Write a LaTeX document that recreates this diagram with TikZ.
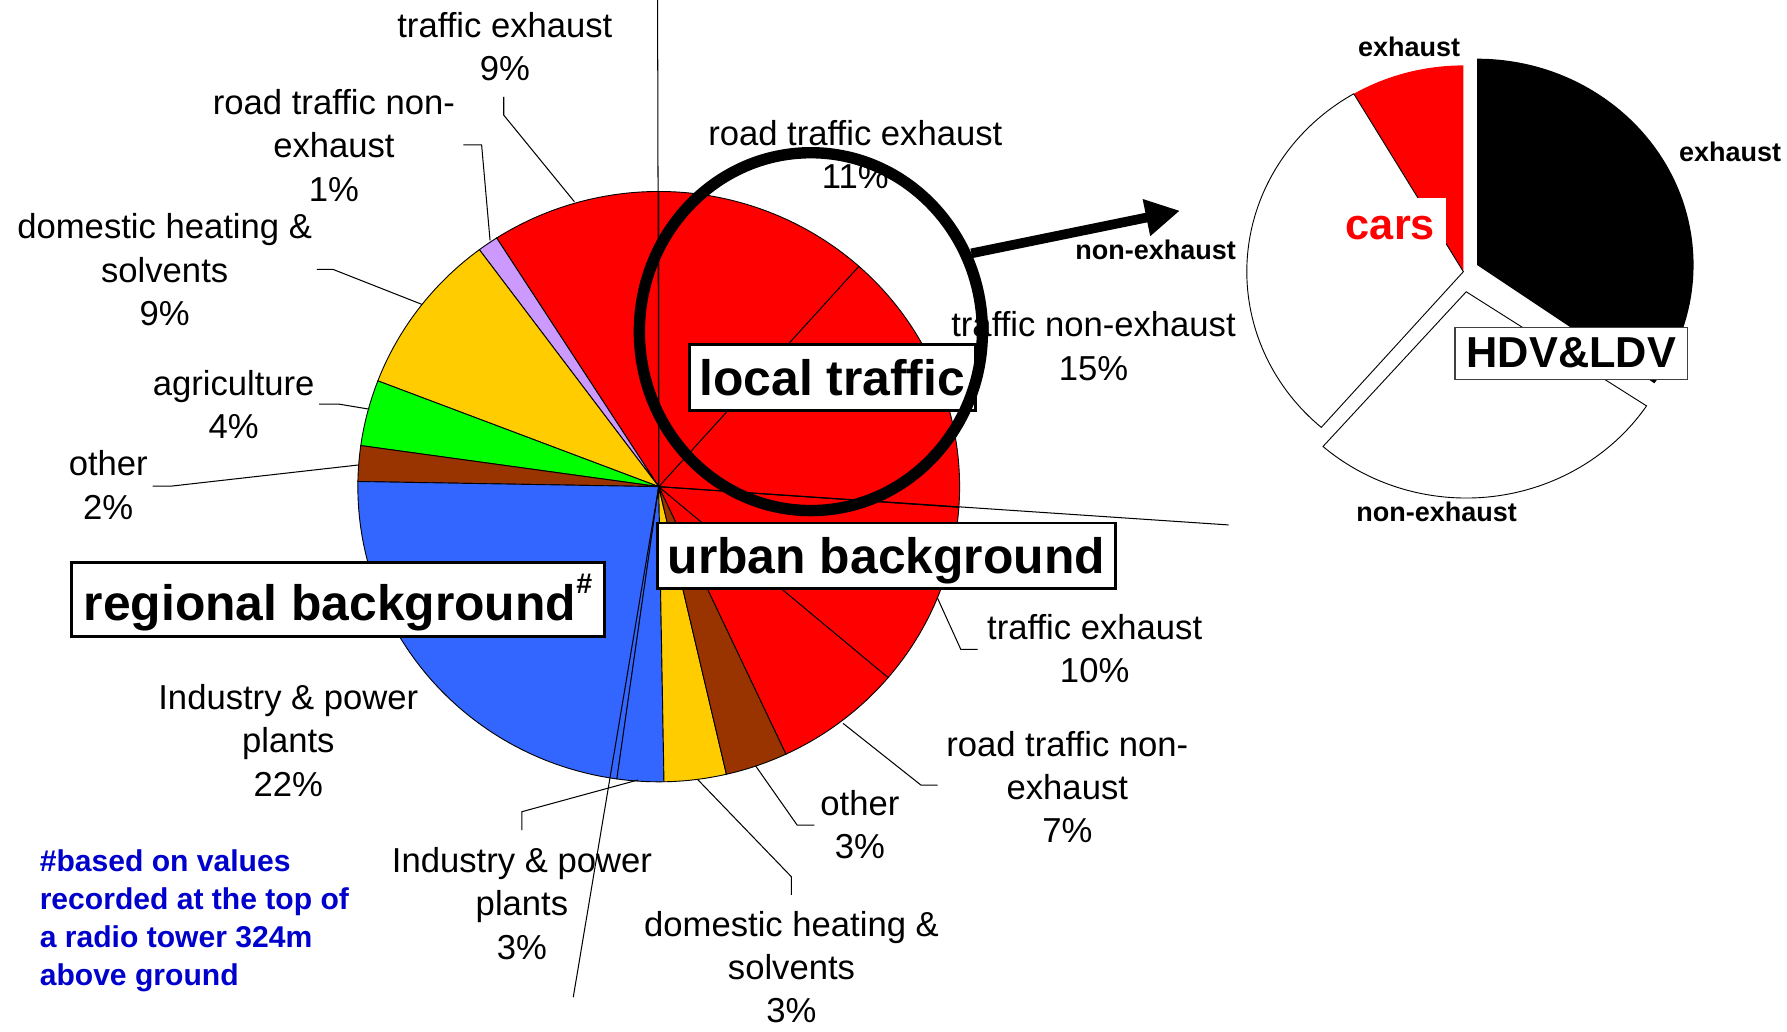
\documentclass[tikz,border=0pt]{standalone}
\usepackage{fontspec}
\setmainfont{Liberation Sans}
\usetikzlibrary{shapes.geometric,arrows.meta}
\definecolor{pieRed}{RGB}{255,0,0}
\definecolor{pieYellow}{RGB}{255,204,0}
\definecolor{pieLilac}{RGB}{204,153,255}
\definecolor{pieGreen}{RGB}{0,255,0}
\definecolor{pieBrown}{RGB}{153,51,0}
\definecolor{pieBlue}{RGB}{51,102,255}
\definecolor{noteBlue}{RGB}{0,0,204}
\begin{document}
\begin{tikzpicture}[x=0.5pt,y=-0.5pt,
  slice/.style={draw=black,line width=0.4pt},
  leader/.style={draw=black,line width=0.45pt},
  lbl/.style={font=\fontsize{15.2}{19}\selectfont,align=center,inner sep=0pt},
  tag/.style={font=\bfseries\fontsize{11.85}{14.2}\selectfont,inner sep=0pt},
  bigbox/.style={draw=black,line width=1.3pt,fill=white,inner sep=0pt,
    font=\bfseries\fontsize{21.85}{26}\selectfont,text height=15.65pt,text depth=0pt},
  smallbox/.style={draw=black!75,line width=0.6pt,fill=white,inner sep=0pt,
    font=\bfseries\fontsize{19}{23}\selectfont,text height=12.1pt,text depth=0pt},
  note/.style={font=\bfseries\fontsize{13.2}{16.8}\selectfont,align=left,
    text=noteBlue,inner sep=0pt}]
\useasboundingbox (0,0) rectangle (1568,905);

% ---- main pie (angles measured clockwise on the page) ----
\coordinate (pc) at (578,427);
\foreach \a/\b/\c in {65/40.3/pieRed, 40.3/4/pieRed, 4/-48.3/pieRed,
    -48.3/-90/pieRed, -90/-122.6/pieRed, -122.6/-126.6/pieLilac,
    -126.6/-159/pieYellow, -159/-172/pieGreen, -172/-179/pieBrown,
    -179/-262/pieBlue, -262/-271/pieBlue, -271/-283/pieYellow,
    -283/-295/pieBrown}
  \filldraw[slice,fill=\c] (pc) -- ++(\a:264 and 259)
    arc[start angle=\a,end angle=\b,x radius=264,y radius=259] -- cycle;

% long guide lines through the centre
\coordinate (topend) at (577,0);
\coordinate (rightend) at (1078,460.6);
\coordinate (downend) at (503,875);
\draw[leader] (pc) -- (topend);
\draw[leader] (pc) -- (rightend);
\draw[leader] (pc) -- (downend);

% leader lines
\draw[leader] (504,177) -- (442,101) -- (442,85);
\draw[leader] (430,211) -- (422.6,127.2) -- (406.5,127.2);
\draw[leader] (370,267) -- (292,236.3) -- (278,236.3);
\draw[leader] (324,359) -- (297,354.5) -- (280,354.5);
\draw[leader] (314.4,408) -- (150.6,426.5) -- (134,426.5);
\draw[leader] (822.7,525) -- (843,569.7) -- (857.8,569.7);
\draw[leader] (739.7,634.7) -- (808,688.8) -- (822.7,688.8);
\draw[leader] (663,672) -- (699.4,723.9) -- (714.6,723.9);
\draw[leader] (612,683.8) -- (694.4,769.3) -- (694.4,785.3);
\draw[leader] (559.7,684.4) -- (458,712.2) -- (458,728.3);

% slice labels
\node[lbl] (l1) at (443,44) {\strut traffic exhaust\\\strut 9\%};
\node[lbl] (l2) at (293,131) {\strut road traffic non-\\\strut exhaust\\\strut 1\%};
\node[lbl] (l3) at (144.5,240) {\strut domestic heating \&\\\strut solvents\\\strut 9\%};
\node[lbl] (l4) at (205,358) {\strut agriculture\\\strut 4\%};
\node[lbl] (l5) at (95,429) {\strut other\\\strut 2\%};
\node[lbl] (l6) at (750.5,139) {\strut road traffic exhaust\\\strut 11\%};
\node[lbl] (l7) at (959.5,307) {\strut traffic non-exhaust\\\strut 15\%};
\node[lbl] (l8) at (960.5,572.5) {\strut traffic exhaust\\\strut 10\%};
\node[lbl] (l9) at (936.5,694) {\strut road traffic non-\\\strut exhaust\\\strut 7\%};
\node[lbl] (l10) at (754.5,727) {\strut other\\\strut 3\%};
\node[lbl] (l11) at (694.5,852) {\strut domestic heating \&\\\strut solvents\\\strut 3\%};
\node[lbl] (l12) at (458,796) {\strut Industry \& power\\\strut plants\\\strut 3\%};
\node[lbl] (l13) at (253,653) {\strut Industry \& power\\\strut plants\\\strut 22\%};

% group boxes
\node[bigbox,minimum width=125.5pt,minimum height=28.8pt] (loc) at (730.2,331.2) {local traffic};
\node[bigbox,minimum width=201pt,minimum height=28.8pt] (urb) at (777.7,487.7) {urban background};
\node[bigbox,minimum width=233.7pt,minimum height=32.4pt,text height=18.35pt] (reg) at (296.5,525.8)
  {regional background\raisebox{11.5pt}{\fontsize{12.5}{12.5}\selectfont\#}};

% highlight ring and arrow
\node[ellipse,draw=black,line width=5pt,minimum width=150.5pt,minimum height=157pt,inner sep=0pt] (ring) at (711.5,291) {};
\coordinate (tip) at (1035.3,184.9);
\draw[line width=4.25pt,-{Triangle[length=15pt,width=15.5pt]}] (ring.26) -- (tip);

% ---- exploded traffic pie ----
\coordinate (hdvA) at (1296,232.5);
\coordinate (carA) at (1284,238.4);
\coordinate (nexA) at (1286.5,256);
\fill[black] (hdvA) -- ++(-90:190 and 181)
  arc[start angle=-90,end angle=35,x radius=190,y radius=181] -- cycle;
\fill[pieRed] (carA) -- ++(-90:190 and 181)
  arc[start angle=-90,end angle=-120.4,x radius=190,y radius=181] -- cycle;
\filldraw[slice,fill=white] (carA) -- ++(-120.4:190 and 181)
  arc[start angle=-120.4,end angle=-229,x radius=190,y radius=181] -- cycle;
\filldraw[slice,fill=white] (nexA) -- ++(-228.6:190 and 181)
  arc[start angle=-228.6,end angle=-326.4,x radius=190,y radius=181] -- cycle;

\node[smallbox,minimum width=102pt,minimum height=22.8pt] (hdv) at (1378.7,310) {HDV\&LDV};
\node[fill=white,inner sep=0pt,text=pieRed,font=\bfseries\fontsize{19}{23}\selectfont,
  minimum width=49pt,text height=18.1pt,text depth=2.4pt] (cars) at (1220,194.5) {cars};

\node[tag] (t1) at (1236.4,43.9) {\strut exhaust};
\node[tag] (t2) at (1518,136) {\strut exhaust};
\node[tag] (t3) at (1014,222.3) {\strut non-exhaust};
\node[tag] (t4) at (1260.5,452) {\strut non-exhaust};

% footnote
\node[note,anchor=west] (fn) at (34.5,808)
  {\strut\#based on values\\\strut recorded at the top of\\\strut a radio tower 324m\\\strut above ground};
\end{tikzpicture}
\end{document}
